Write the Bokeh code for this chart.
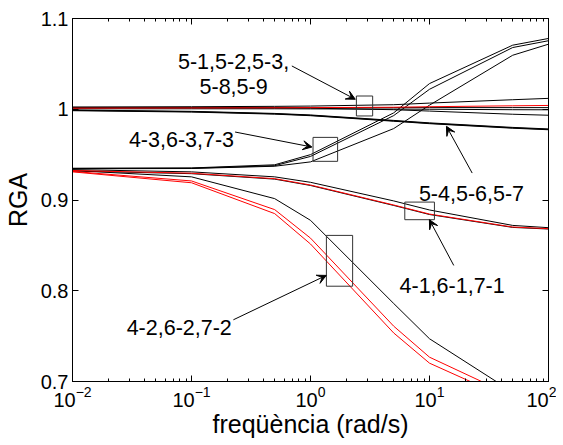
from bokeh.plotting import figure
from bokeh.models import (Range1d, LogAxis, LinearAxis, FixedTicker, LogTickFormatter,
                          CustomJSTickFormatter, Label, Arrow, VeeHead)
from bokeh.embed import file_html
from bokeh.resources import INLINE

# frequencies (rad/s)
freq = [0.01, 0.1, 0.5, 1, 5, 10, 50, 100]

# group 5-1,5-2,5-3,5-8,5-9
rga_5a = [1.0025, 1.0028, 1.0032, 1.0035, 1.0050, 1.0068, 1.0105, 1.0120]
rga_5b = [1.0012, 1.0014, 1.0016, 1.0018, 1.0022, 1.0028, 1.0038, 1.0042]   # red
rga_5c = [1.0018, 1.0018, 1.0018, 1.0018, 1.0018, 1.0018, 1.0018, 1.0018]
rga_5d = [1.0005, 1.0005, 1.0005, 1.0004, 1.0002, 1.0000, 0.9995, 0.9994]
rga_5e = [1.0015, 1.0015, 1.0014, 1.0012, 0.9995, 0.9980, 0.9945, 0.9934]

# group 5-4,5-6,5-7
rga_54a = [0.9992, 0.9977, 0.9954, 0.9937, 0.9877, 0.9850, 0.9800, 0.9783]
rga_54b = [0.9988, 0.9973, 0.9950, 0.9933, 0.9872, 0.9845, 0.9795, 0.9778]
rga_54c = [0.9984, 0.9969, 0.9946, 0.9929, 0.9868, 0.9841, 0.9791, 0.9774]

# group 4-3,6-3,7-3
rga_43a = [0.9350, 0.9353, 0.9388, 0.9500, 0.9960, 1.0283, 1.0706, 1.0780]
rga_43b = [0.9347, 0.9350, 0.9378, 0.9480, 0.9930, 1.0220, 1.0680, 1.0755]
rga_43c = [0.9344, 0.9347, 0.9372, 0.9420, 0.9787, 1.0045, 1.0595, 1.0717]

# group 4-1,6-1,7-1
rga_41a = [0.9335, 0.9310, 0.9255, 0.9195, 0.8990, 0.8890, 0.8720, 0.8695]
rga_41b = [0.9325, 0.9295, 0.9235, 0.9165, 0.8945, 0.8845, 0.8702, 0.8684]   # red
rga_41c = [0.9320, 0.9290, 0.9230, 0.9160, 0.8940, 0.8840, 0.8698, 0.8680]

# group 4-2,6-2,7-2
rga_42a = [0.9325, 0.9255, 0.9015, 0.8776, 0.7860, 0.7471, 0.6884, 0.6700]
rga_42b = [0.9315, 0.9210, 0.8894, 0.8580, 0.7610, 0.7268, 0.6840, 0.6750]   # red
rga_42c = [0.9310, 0.9190, 0.8850, 0.8515, 0.7535, 0.7202, 0.6790, 0.6700]   # red

black_series = [rga_5a, rga_5c, rga_5d, rga_5e, rga_54a, rga_54b, rga_54c,
                rga_43a, rga_43b, rga_43c, rga_41a, rga_41c, rga_42a]
red_series = [rga_5b, rga_41b, rga_42b, rga_42c]

# tick values
x_ticks = [0.01, 0.1, 1, 10, 100]
y_ticks = [0.7, 0.8, 0.9, 1.0, 1.1]

# annotation texts
labels = ["5-1,5-2,5-3,", "5-8,5-9", "4-3,6-3,7-3", "5-4,5-6,5-7", "4-1,6-1,7-1", "4-2,6-2,7-2"]
label_x = [0.2257, 0.2257, 0.2279, 22.53, 15.49, 0.2181]
label_y = [1.0529, 1.0246, 0.9666, 0.9077, 0.8059, 0.7599]
label_align = ["center", "center", "right", "center", "center", "right"]

# highlight boxes
box_left = [2.43, 1.05, 6.2, 1.36]
box_right = [3.33, 1.69, 11.0, 2.26]
box_bottom = [0.9926, 0.9426, 0.8783, 0.805]
box_top = [1.0146, 0.969, 0.8977, 0.861]

# arrows
arr_x0 = [0.697, 0.2324, 22.84, 15.99, 0.2249]
arr_y0 = [1.0477, 0.9749, 0.9297, 0.8279, 0.768]
arr_x1 = [2.378, 1.0275, 13.88, 9.98, 1.356]
arr_y1 = [1.011, 0.9584, 0.9812, 0.8783, 0.8169]

FONT = "Liberation Sans"

p = figure(width=556, height=440, x_axis_type="log",
           x_range=Range1d(0.01, 100), y_range=Range1d(0.7, 1.1),
           output_backend="svg", toolbar_location=None,
           min_border_left=72, min_border_right=8, min_border_top=18, min_border_bottom=59)
p.xgrid.visible = False
p.ygrid.visible = False
p.outline_line_color = "black"
p.outline_line_width = 1

minor_x = [m * 10.0 ** e for e in range(-2, 2) for m in range(2, 10)]

def style_axis(ax):
    ax.axis_line_color = "black"
    ax.major_tick_line_color = "black"
    ax.minor_tick_line_color = "black"
    ax.major_tick_in = 6
    ax.major_tick_out = 0
    ax.minor_tick_in = 3
    ax.minor_tick_out = 0
    ax.major_label_text_font = FONT
    ax.major_label_text_color = "black"
    ax.axis_label_text_font = FONT
    ax.axis_label_text_font_style = "normal"
    ax.axis_label_text_color = "black"

xa = p.xaxis[0]
xa.ticker = FixedTicker(ticks=x_ticks, minor_ticks=minor_x)
xa.formatter = LogTickFormatter()
style_axis(xa)
xa.major_label_text_font_size = "20px"
xa.major_label_standoff = 4
xa.axis_label = "freqüència (rad/s)"
xa.axis_label_text_font_size = "25px"
xa.axis_label_standoff = 0

ya = p.yaxis[0]
ya.ticker = FixedTicker(ticks=y_ticks, minor_ticks=[])
ya.formatter = CustomJSTickFormatter(code="return (Math.round(tick*10)/10).toString();")
style_axis(ya)
ya.major_label_text_font_size = "20px"
ya.major_label_standoff = 4
ya.axis_label = "RGA"
ya.axis_label_text_font_size = "25px"
ya.axis_label_standoff = 6

blank = CustomJSTickFormatter(code="return '';")
ta = LogAxis(ticker=FixedTicker(ticks=x_ticks, minor_ticks=minor_x), formatter=blank)
style_axis(ta)
ta.major_label_text_font_size = "1px"
ta.major_label_standoff = 0
p.add_layout(ta, "above")

ra = LinearAxis(ticker=FixedTicker(ticks=y_ticks, minor_ticks=[]),
                formatter=CustomJSTickFormatter(code="return '';"))
style_axis(ra)
ra.major_label_text_font_size = "1px"
ra.major_label_standoff = 0
p.add_layout(ra, "right")

for s in black_series:
    p.line(freq, s, line_color="black", line_width=1)
for s in red_series:
    p.line(freq, s, line_color="#ff0000", line_width=1)

p.quad(left=box_left, right=box_right, bottom=box_bottom, top=box_top,
       fill_color=None, line_color="#333333", line_width=1)

for x0, y0, x1, y1 in zip(arr_x0, arr_y0, arr_x1, arr_y1):
    p.add_layout(Arrow(end=VeeHead(size=9, fill_color="black", line_color="black", line_width=1),
                       x_start=x0, y_start=y0, x_end=x1, y_end=y1,
                       line_color="black", line_width=1))

for t, x, y, a in zip(labels, label_x, label_y, label_align):
    p.add_layout(Label(x=x, y=y, text=t, text_font=FONT, text_font_size="21.5px",
                       text_align=a, text_baseline="alphabetic", text_color="black"))

open("out.html", "w").write(file_html(p, INLINE))
